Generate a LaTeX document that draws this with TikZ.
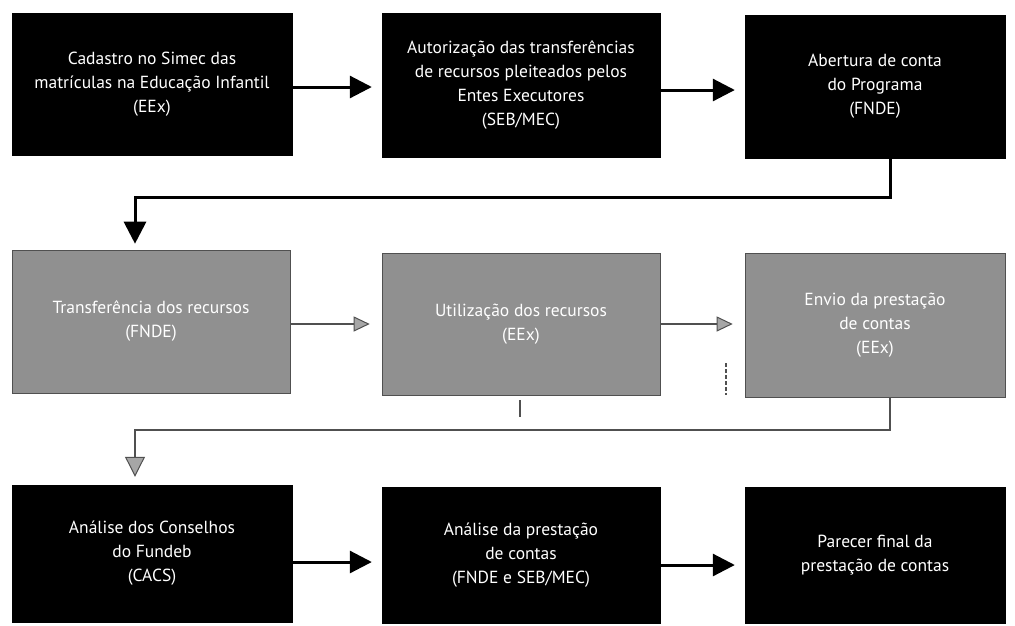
\documentclass[tikz,border=0pt]{standalone}
\usepackage{fontspec}
\setmainfont{PT Sans}
\usetikzlibrary{arrows.meta}
\definecolor{boxgray}{HTML}{909090}
\definecolor{linegray}{HTML}{505050}
\begin{document}
\begin{tikzpicture}[x=1pt,y=-1pt,
  blk/.style={fill=black,draw=black,text=white,align=center,inner sep=0pt,font=\fontsize{17.5}{24}\selectfont},
  gry/.style={fill=boxgray,draw=linegray,line width=0.6pt,text=white,align=center,inner sep=0pt,font=\fontsize{17.5}{24}\selectfont},
  barrow/.style={line width=3pt,-{Triangle[width=22pt,length=22pt]},shorten >=10pt},
  garrow/.style={line width=1.5pt,draw=linegray,-{Triangle[width=15pt,length=16pt,fill=boxgray!80,line width=1pt]},shorten >=12pt},
  straymark/.style={draw=linegray,line width=1.2pt}]
\useasboundingbox (0,0) rectangle (1015,625);
\fill[white] (0,0) rectangle (1015,625);
% row 1
\node[blk,minimum width=280pt,minimum height=142pt] (b1) at (152,84) {Cadastro no Simec das\\matrículas na Educação Infantil\\(EEx)};
\node[blk,minimum width=278pt,minimum height=144pt] (b2) at (521,85) {Autorização das transferências\\de recursos pleiteados pelos\\Entes Executores\\(SEB/MEC)};
\node[blk,minimum width=260pt,minimum height=143pt] (b3) at (875,86.5) {Abertura de conta\\do Programa\\(FNDE)};
% row 2
\node[gry,minimum width=278pt,minimum height=143pt] (b4) at (151,321.5) {Transferência dos recursos\\(FNDE)};
\node[gry,minimum width=278pt,minimum height=142pt] (b5) at (521,324) {Utilização dos recursos\\(EEx)};
\node[gry,minimum width=260pt,minimum height=144pt] (b6) at (875,325) {Envio da prestação\\de contas\\(EEx)};
% row 3
\node[blk,minimum width=280pt,minimum height=137pt] (b7) at (152,553.5) {Análise dos Conselhos\\do Fundeb\\(CACS)};
\node[blk,minimum width=278pt,minimum height=136pt] (b8) at (521,555) {Análise da prestação\\de contas\\(FNDE e SEB/MEC)};
\node[blk,minimum width=260pt,minimum height=136pt] (b9) at (875,555) {Parecer final da\\prestação de contas};
% connectors row 1
\draw[barrow] (b1.east |- 0,87) -- (b2.west |- 0,87);
\draw[barrow] (b2.east |- 0,90) -- (b3.west |- 0,90);
\coordinate (c1) at (890,197);
\coordinate (c2) at (135,197);
\draw[line width=3pt,-{Triangle[width=22pt,length=22pt]},shorten >=6pt] (b3.south -| c1) -- (c1) -- (c2) -- (b4.north -| c2);
% connectors row 2
\draw[garrow] (b4.east |- 0,324) -- (b5.west |- 0,324);
\draw[garrow] (b5.east |- 0,324) -- (b6.west |- 0,324);
\coordinate (c3) at (890,430);
\coordinate (c4) at (135,430);
\draw[line width=1.5pt,draw=linegray,-{Triangle[width=20pt,length=20pt,fill=boxgray!80,line width=1pt]},shorten >=8pt] (b6.south -| c3) -- (c3) -- (c4) -- (b7.north -| c4);
% stray marks
\draw[straymark] (520,400) -- (520,417);
\draw[straymark,dash pattern=on 4pt off 2pt] (726,363) -- (726,395);
% connectors row 3
\draw[barrow] (b7.east |- 0,562) -- (b8.west |- 0,562);
\draw[barrow] (b8.east |- 0,565) -- (b9.west |- 0,565);
\end{tikzpicture}
\end{document}
